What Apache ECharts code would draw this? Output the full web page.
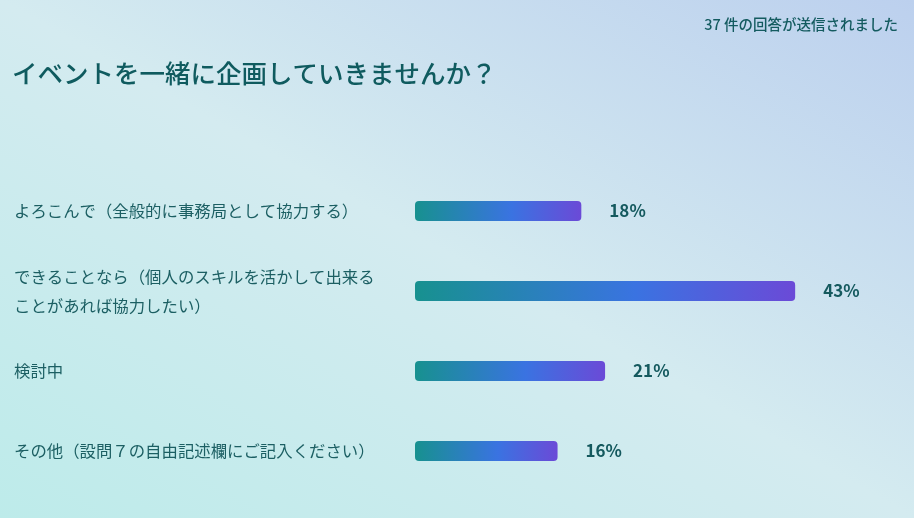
<!DOCTYPE html>
<html>
<head>
<meta charset="utf-8">
<script src="https://cdn.jsdelivr.net/npm/echarts@6/dist/echarts.min.js"></script>
<style>
html,body{margin:0;padding:0;width:914px;height:518px;overflow:hidden;}
body{background:linear-gradient(to top right,#bdebea 0%,#d4ebf0 50%,#bcd0ee 100%);}
#c{width:914px;height:518px;}
</style>
</head>
<body>
<div id="c"></div>
<script>
var titleText = 'イベントを一緒に企画していきませんか？';
var responseText = '37 件の回答が送信されました';
var categories = [
  'よろこんで（全般的に事務局として協力する）',
  'できることなら（個人のスキルを活かして出来る\nことがあれば協力したい）',
  '検討中',
  'その他（設問７の自由記述欄にご記入ください）'
];
var values = [18.9, 43.2, 21.6, 16.2];
var valueLabels = ['18%', '43%', '21%', '16%'];

var FONT = '"Noto Sans CJK JP", "Noto Sans", sans-serif';
var chart = echarts.init(document.getElementById('c'), null, {renderer: 'canvas'});
var barGrad = new echarts.graphic.LinearGradient(0, 0, 1, 0, [
  {offset: 0, color: '#17918f'},
  {offset: 0.58, color: '#3a73e1'},
  {offset: 1, color: '#6b4ad7'}
]);
chart.setOption({
  backgroundColor: 'transparent',
  title: [
    {text: titleText, left: 7, top: 56,
     textStyle: {fontFamily: FONT, fontSize: 25.5, fontWeight: 500, color: '#0f5b5f'}},
    {text: responseText, right: 11, top: 12,
     textStyle: {fontFamily: FONT, fontSize: 14.5, fontWeight: 500, color: '#145b60'}}
  ],
  grid: {left: 415, right: 59, top: 171, bottom: 27, containLabel: false},
  xAxis: {type: 'value', min: 0, max: 50, show: false},
  yAxis: {
    type: 'category', data: categories, inverse: true,
    axisLine: {show: false}, axisTick: {show: false}, splitLine: {show: false},
    axisLabel: {
      align: 'left', margin: 401, fontFamily: FONT, fontSize: 16.4,
      lineHeight: 29, color: '#1c5f63'
    }
  },
  series: [{
    type: 'bar', data: values, barWidth: 20,
    itemStyle: {color: barGrad, borderRadius: 4},
    label: {
      show: true, position: 'right', distance: 28,
      formatter: function (p) { return valueLabels[p.dataIndex]; },
      fontFamily: FONT, fontSize: 17, fontWeight: 600, color: '#14595e'
    },
    silent: true
  }],
  animation: false
});
</script>
</body>
</html>
